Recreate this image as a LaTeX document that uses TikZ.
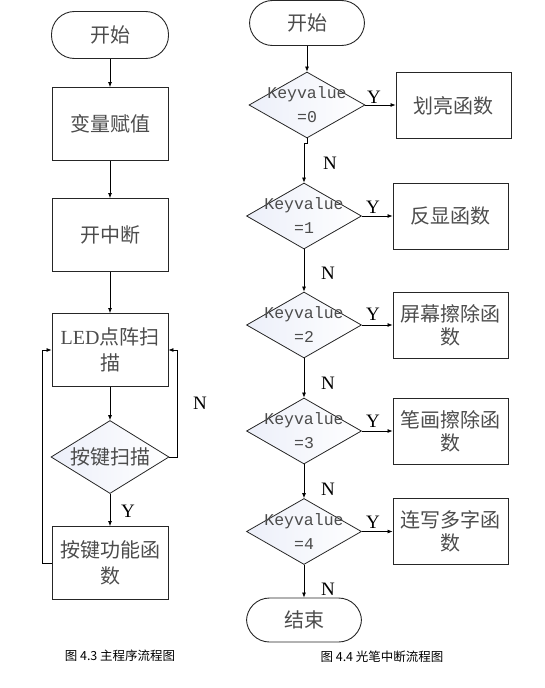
\documentclass[tikz,border=0pt]{standalone}
\usepackage{fontspec}
\setmainfont{Liberation Serif}
\newfontfamily\cjk{Noto Sans CJK SC}
\newfontfamily\mono{Liberation Mono}
\usetikzlibrary{shapes.geometric,arrows.meta}
\definecolor{txt}{gray}{0.3}
\definecolor{dfill}{RGB}{236,239,249}
\begin{document}
\begin{tikzpicture}[x=1pt,y=-1pt,
 term/.style={draw=black!85, line width=0.9pt, rounded corners=23pt, minimum width=117pt, minimum height=47pt, inner sep=0pt, text=txt, font=\cjk\fontsize{20}{25}\selectfont},
 box/.style={draw=black!85, line width=0.9pt, minimum width=116pt, minimum height=73pt, inner sep=0pt, align=center, text=txt, font=\cjk\fontsize{20}{26}\selectfont},
 rbox/.style={box, minimum width=115pt, minimum height=66pt, font=\cjk\fontsize{20}{23}\selectfont},
 dec/.style={diamond, draw=black!85, line width=0.8pt, minimum width=115pt, minimum height=66pt, inner sep=0pt, left color=dfill, right color=white},
 arr/.style={-{Latex[length=5pt,width=4pt]}, line width=0.7pt},
 yn/.style={font=\fontsize{19}{19}\selectfont, text=black, inner sep=0pt},
 kv/.style={font=\mono\fontsize{16.5}{24}\selectfont, align=center, text=txt, inner sep=0pt},
 captext/.style={font=\cjk\fontsize{12.5}{14}\selectfont, text=black, inner sep=0pt}
]
\useasboundingbox (0,0) rectangle (545,688);

% ---------- left flowchart ----------
\node[term] (s1) at (110,35) {开始};
\node[box] (b1) at (110,124) {变量赋值};
\node[box] (b2) at (110,235) {开中断};
\node[box] (b3) at (110,350) {{\rmfamily LED}点阵扫\\描};
\node[dec, minimum width=118pt, minimum height=73pt] (d1) at (110,457) {};
\node[text=txt, font=\cjk\fontsize{20}{25}\selectfont, inner sep=0pt] (d1t) at (d1.center) {按键扫描};
\node[box] (b4) at (110,563) {按键功能函\\数};

\draw[arr] (s1) -- (b1);
\draw[arr] (b1) -- (b2);
\draw[arr] (b2) -- (b3);
\draw[arr] (b3) -- (d1);
\draw[arr] (d1) -- (b4);
\draw[arr] (b4.west) -- ++(-9,0) |- (b3.west);
\draw[arr] (d1.east) -- ++(8,0) |- (b3.east);
\node[yn] (ly) at (128,511) {Y};
\node[yn] (ln) at (200,403) {N};
\node[captext] (c1) at (120,656) {图 4.3 主程序流程图};

% ---------- right flowchart ----------
\node[term, minimum width=115pt, minimum height=45pt] (s2) at (307,23) {开始};

\node[dec, minimum width=116pt] (k0) at (307,105) {};
\node[kv] (k0t) at (k0.center) {Keyvalue\\=0};
\node[rbox] (r0) at (453.5,105.5) {划亮函数};

\node[dec] (k1) at (304,216) {};
\node[kv] (k1t) at (k1.center) {Keyvalue\\=1};
\node[rbox] (r1) at (450.5,216) {反显函数};

\node[dec] (k2) at (304,325) {};
\node[kv] (k2t) at (k2.center) {Keyvalue\\=2};
\node[rbox] (r2) at (450.5,325) {屏幕擦除函\\数};

\node[dec] (k3) at (304,431) {};
\node[kv] (k3t) at (k3.center) {Keyvalue\\=3};
\node[rbox] (r3) at (450.5,431.5) {笔画擦除函\\数};

\node[dec] (k4) at (304,531.5) {};
\node[kv] (k4t) at (k4.center) {Keyvalue\\=4};
\node[rbox] (r4) at (450.5,531.5) {连写多字函\\数};

\node[term, minimum width=115pt, minimum height=44pt] (e) at (304,620) {结束};

\draw[arr] (s2) -- (k0);
\draw[arr] (k0.south) -- ++(0,5) -| (k1.north);
\draw[arr] (k1) -- (k2);
\draw[arr] (k2) -- (k3);
\draw[arr] (k3) -- (k4);
\draw[arr] (k4) -- (e);
\draw[arr] (k0.east) -- (k0.east -| r0.west);
\draw[arr] (k1.east) -- (k1.east -| r1.west);
\draw[arr] (k2.east) -- (k2.east -| r2.west);
\draw[arr] (k3.east) -- (k3.east -| r3.west);
\draw[arr] (k4.east) -- (k4.east -| r4.west);

\node[yn] (y0) at (374,97) {Y};
\node[yn] (y1) at (373,207) {Y};
\node[yn] (y2) at (373,314) {Y};
\node[yn] (y3) at (373,421) {Y};
\node[yn] (y4) at (373,522) {Y};
\node[yn] (n0) at (330,163) {N};
\node[yn] (n1) at (328,273) {N};
\node[yn] (n2) at (328,383) {N};
\node[yn] (n3) at (328,489) {N};
\node[yn] (n4) at (328,589) {N};

\node[captext] (c2) at (382,657) {图 4.4 光笔中断流程图};
\end{tikzpicture}
\end{document}
